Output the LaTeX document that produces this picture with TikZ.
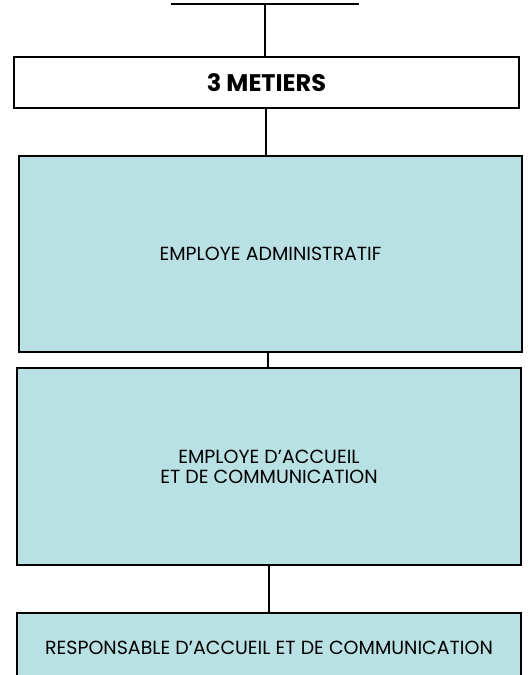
\documentclass[tikz,border=0pt]{standalone}
\usepackage{fontspec}
\setmainfont{Poppins}
\begin{document}
\begin{tikzpicture}[x=1pt,y=-1pt,
  conn/.style={draw=black,line width=1.1pt},
  titlebox/.style={draw=black,line width=1.3pt,fill=white,inner sep=0pt,font=\fontsize{24}{26}\selectfont\bfseries},
  metier/.style={draw=black,line width=1.3pt,fill=boxfill,inner sep=0pt,align=center,font=\fontsize{19}{20}\selectfont}]
\definecolor{boxfill}{HTML}{B9E0E3}
\useasboundingbox (0,0) rectangle (531,675);
\clip (0,0) rectangle (531,675);
\coordinate (topL) at (171,4);
\coordinate (topR) at (359,4);
\coordinate (topM) at (265,4);
\node[titlebox,minimum width=505pt,minimum height=51pt] (b1) at (266.5,82.5) {3 METIERS};
\node[metier,minimum width=503pt,minimum height=196pt] (b2) at (270.5,254) {EMPLOYE ADMINISTRATIF};
\node[metier,minimum width=504pt,minimum height=197pt] (b3) at (269,466.5) {EMPLOYE D'ACCUEIL\\ET DE COMMUNICATION};
\node[metier,minimum width=504pt,minimum height=70pt] (b4) at (269,648) {RESPONSABLE D'ACCUEIL ET DE COMMUNICATION};
\draw[conn] (topL) -- (topR);
\draw[conn] (topM) -- (265,0 |- b1.north);
\draw[conn] (266,0 |- b1.south) -- (266,0 |- b2.north);
\draw[conn] (268,0 |- b2.south) -- (268,0 |- b3.north);
\draw[conn] (269,0 |- b3.south) -- (269,0 |- b4.north);
\end{tikzpicture}
\end{document}
